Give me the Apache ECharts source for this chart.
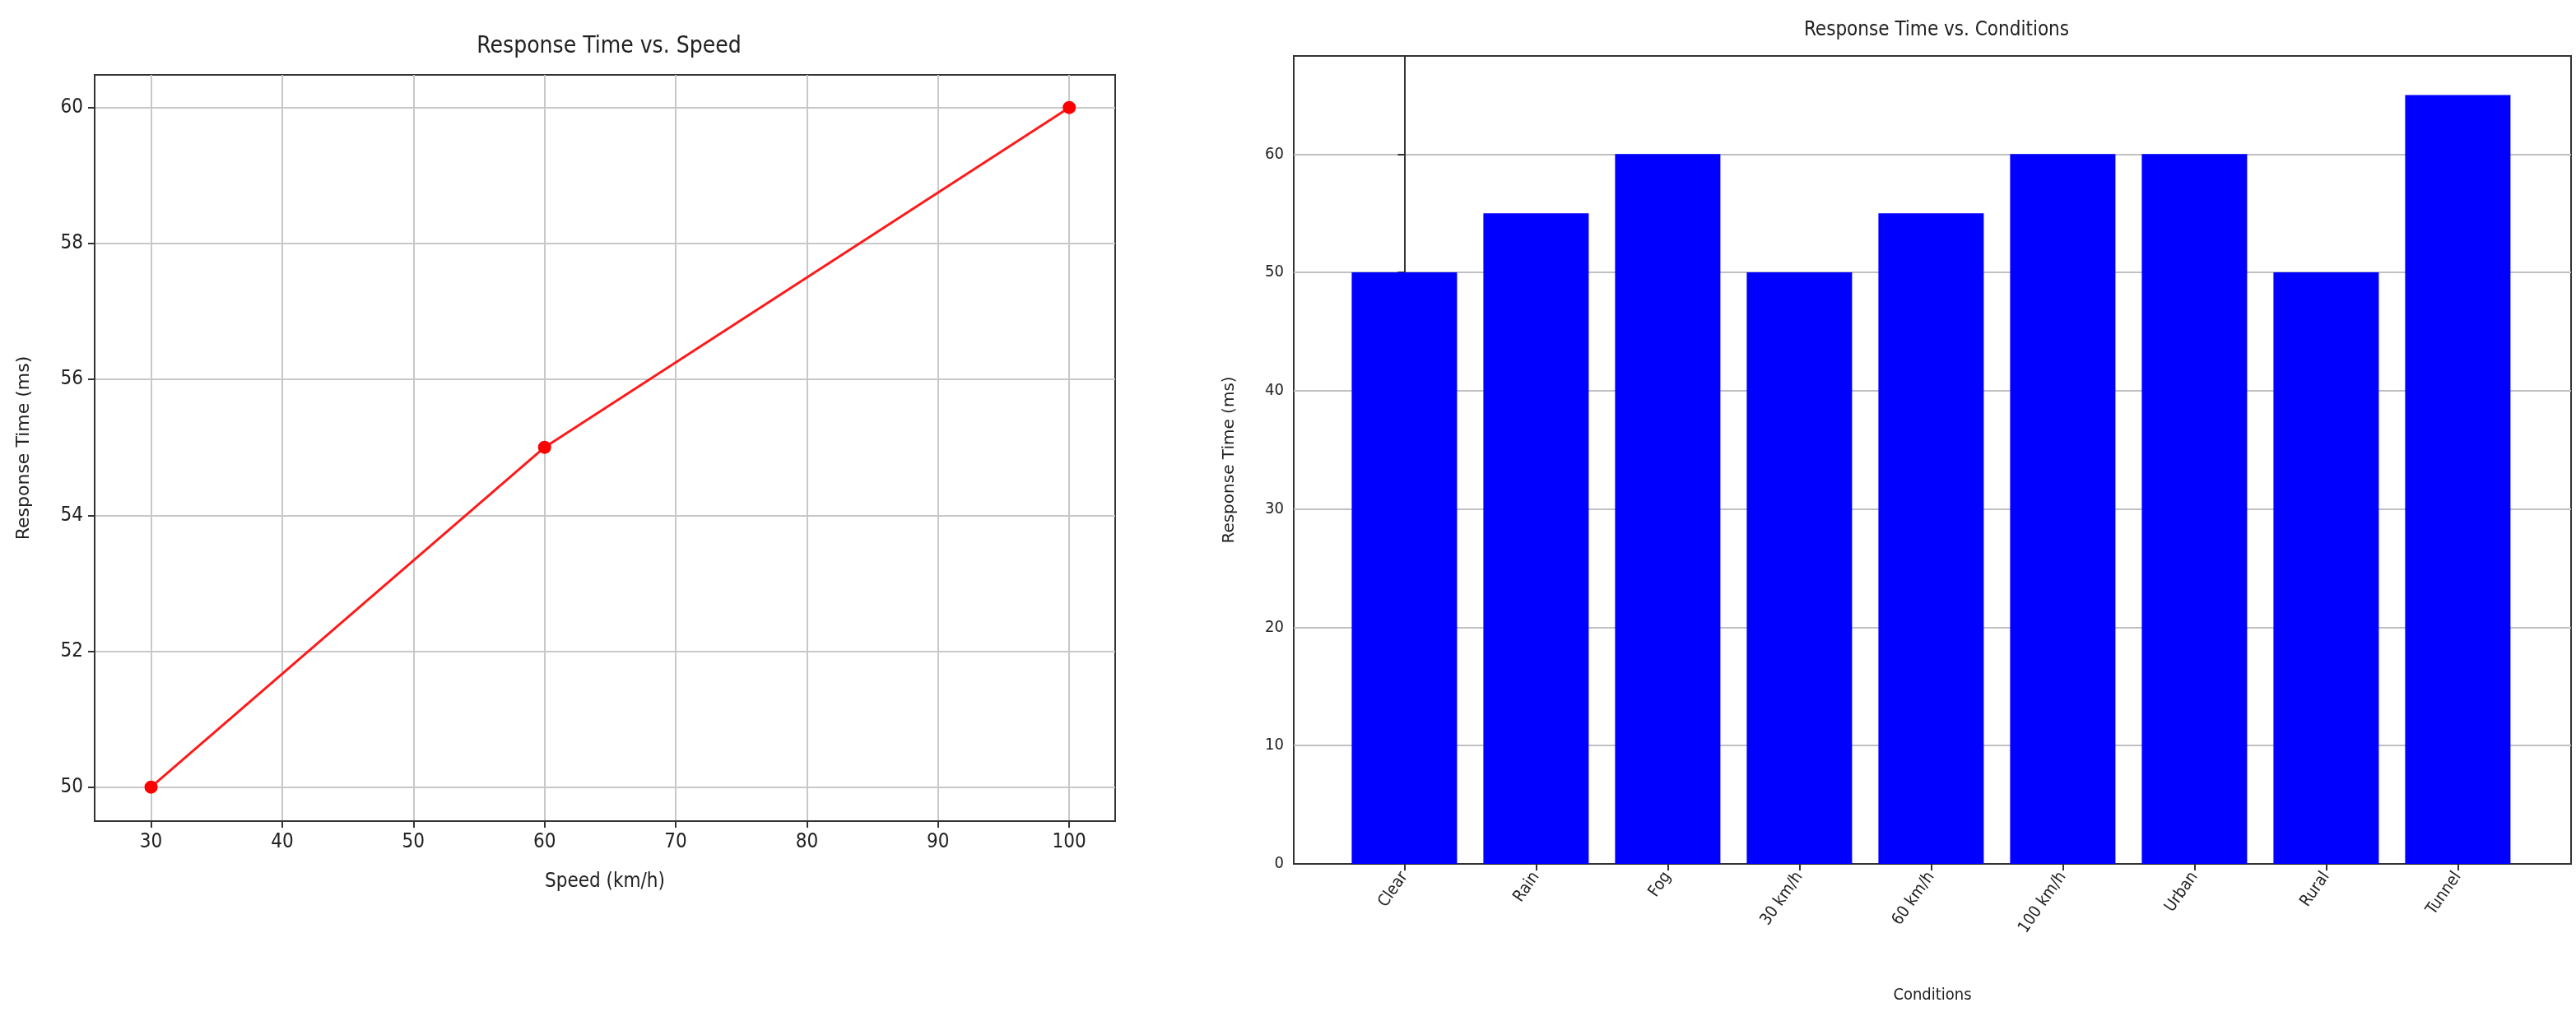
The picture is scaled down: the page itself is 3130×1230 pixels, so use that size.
<!DOCTYPE html>
<html>
<head>
<meta charset="utf-8">
<script src="https://cdn.jsdelivr.net/npm/echarts@6/dist/echarts.min.js"></script>
<style>
html, body { margin: 0; padding: 0; background: #fff; }
#chart { width: 3130px; height: 1230px; }
</style>
</head>
<body>
<div id="chart"></div>
<script>
// left panel: speed vs response time
var speeds = [30, 60, 100];
var speedTimes = [50, 55, 60];
var speedTicks = [30, 40, 50, 60, 70, 80, 90, 100];
var speedTimeTicks = [50, 52, 54, 56, 58, 60];

// right panel: conditions
var conditions = ["Clear", "Rain", "Fog", "30 km/h", "60 km/h", "100 km/h", "Urban", "Rural", "Tunnel"];
var condTimes = [50, 55, 60, 50, 55, 60, 60, 50, 65];
var condTicks = [0, 10, 20, 30, 40, 50, 60];

var font = "DejaVu Sans Condensed";
var txt = "#222";
var gridLine = { show: true, lineStyle: { color: "#c8c8c8", width: 2 } };
var frame = { show: true, lineStyle: { color: "#333", width: 2 } };

var chart = echarts.init(document.getElementById("chart"));

var catIdx = conditions.map(function (c, i) { return i; });

chart.setOption({
    animation: false,
    textStyle: { fontFamily: font },
    title: [
        { text: "Response Time vs. Speed", left: 735, top: 38, textAlign: "center",
          textStyle: { fontFamily: font, fontSize: 28, fontWeight: "normal", color: txt } },
        { text: "Response Time vs. Conditions", left: 2348, top: 20, textAlign: "center",
          textStyle: { fontFamily: font, fontSize: 24, fontWeight: "normal", color: txt } }
    ],
    grid: [
        { left: 115, top: 91, width: 1240, height: 907, show: true, borderColor: "#333", borderWidth: 2 },
        { left: 1572, top: 68, width: 1552, height: 982, show: true, borderColor: "#333", borderWidth: 2 }
    ],
    xAxis: [
        {
            gridIndex: 0, type: "value", min: 25.7, max: 103.5,
            name: "Speed (km/h)", nameLocation: "middle", nameGap: 62,
            nameTextStyle: { fontFamily: font, fontSize: 24, color: txt },
            axisLine: frame,
            axisTick: { show: true, length: 8, customValues: speedTicks, lineStyle: { color: "#333", width: 2 } },
            axisLabel: { customValues: speedTicks, fontFamily: font, fontSize: 24, color: txt, margin: 14 },
            splitLine: { show: true, customValues: speedTicks, lineStyle: { color: "#c8c8c8", width: 2 } }
        },
        {
            gridIndex: 1, type: "value", min: -0.84, max: 8.86,
            name: "Conditions", nameLocation: "middle", nameGap: 150,
            nameTextStyle: { fontFamily: font, fontSize: 20, color: txt },
            axisLine: frame,
            axisTick: { show: true, length: 8, customValues: catIdx, lineStyle: { color: "#333", width: 2 } },
            axisLabel: {
                customValues: catIdx, rotate: 55, fontFamily: font, fontSize: 20, color: txt, margin: 12,
                formatter: function (v) { return conditions[Math.round(v)] || ""; }
            },
            splitLine: { show: false }
        }
    ],
    yAxis: [
        {
            gridIndex: 0, type: "value", min: 49.5, max: 60.48,
            name: "Response Time (ms)", nameLocation: "middle", nameGap: 75,
            nameTextStyle: { fontFamily: "DejaVu Sans", fontSize: 22, color: txt },
            axisLine: frame,
            axisTick: { show: true, length: 8, customValues: speedTimeTicks, lineStyle: { color: "#333", width: 2 } },
            axisLabel: { customValues: speedTimeTicks, fontFamily: font, fontSize: 24, color: txt, margin: 14 },
            splitLine: { show: true, customValues: speedTimeTicks, lineStyle: { color: "#c8c8c8", width: 2 } }
        },
        {
            gridIndex: 1, type: "value", min: 0, max: 68.3,
            name: "Response Time (ms)", nameLocation: "middle", nameGap: 68,
            nameTextStyle: { fontFamily: "DejaVu Sans", fontSize: 20, color: txt },
            axisLine: frame,
            axisTick: { show: true, length: 8, customValues: condTicks, lineStyle: { color: "#333", width: 2 } },
            axisLabel: { customValues: condTicks, fontFamily: font, fontSize: 20, color: txt, margin: 12 },
            splitLine: { show: true, customValues: condTicks, lineStyle: { color: "#c0c0c0", width: 2 } }
        }
    ],
    series: [
        {
            type: "line", xAxisIndex: 0, yAxisIndex: 0,
            data: speeds.map(function (s, i) { return [s, speedTimes[i]]; }),
            lineStyle: { color: "#ff1a1a", width: 3 },
            itemStyle: { color: "#ff0000" },
            symbol: "circle", symbolSize: 16
        },
        {
            type: "bar", xAxisIndex: 1, yAxisIndex: 1,
            data: condTimes.map(function (v, i) { return [i, v]; }),
            barWidth: 128,
            itemStyle: { color: "#0000ff" }
        }
    ]
});
</script>
</body>
</html>
